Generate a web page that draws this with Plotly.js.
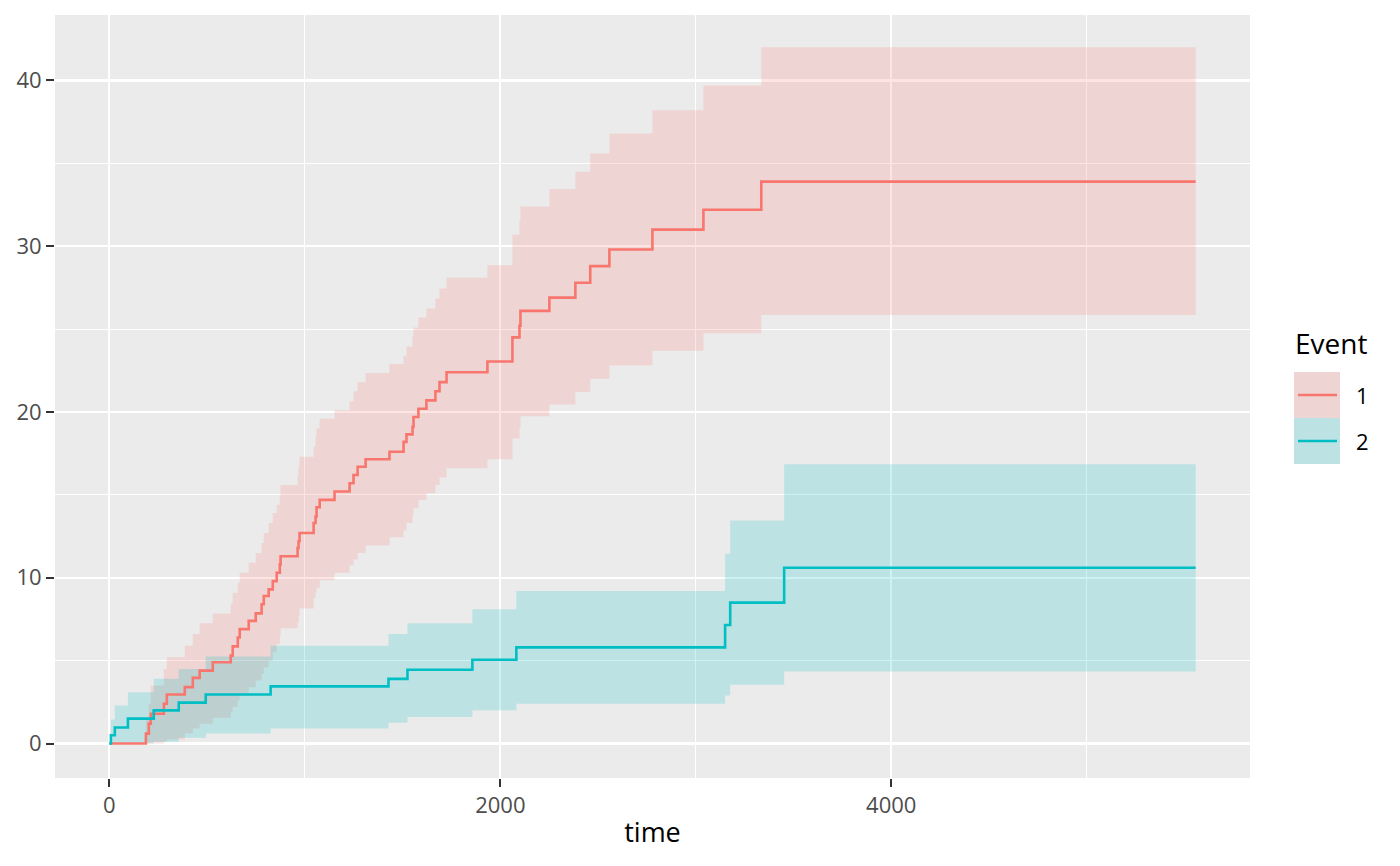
<!DOCTYPE html>
<html>
<head>
<meta charset="utf-8">
<script src="https://cdn.plot.ly/plotly-3.0.1.min.js"></script>
<style>html,body{margin:0;padding:0;background:#fff;}#chart{width:1400px;height:866px;}</style>
</head>
<body>
<div id="chart"></div>
<script>
// ---- Data ----
const event1Time  = [0, 187, 202, 212, 279, 294, 386, 427, 462, 529, 621, 631, 657, 667, 713, 749, 779, 790, 815, 836, 856, 872, 876, 963, 968, 973, 1045, 1055, 1060, 1076, 1152, 1229, 1249, 1270, 1311, 1433, 1505, 1520, 1551, 1556, 1581, 1622, 1668, 1689, 1725, 1934, 2062, 2098, 2103, 2251, 2384, 2460, 2558, 2778, 3039, 3335, 5557];
const event1Est   = [0, 0.6, 1.2, 1.8, 2.4, 2.96, 3.4, 3.96, 4.4, 4.9, 5.3, 5.86, 6.4, 6.9, 7.4, 7.85, 8.4, 8.9, 9.3, 9.8, 10.3, 10.8, 11.3, 11.8, 12.2, 12.7, 13.3, 13.7, 14.25, 14.7, 15.2, 15.7, 16.2, 16.7, 17.15, 17.6, 18.2, 18.65, 19.1, 19.7, 20.2, 20.7, 21.25, 21.8, 22.4, 23.05, 24.5, 25.2, 26.1, 26.9, 27.8, 28.8, 29.8, 31.0, 32.2, 33.9, 33.9];
const event1Lower = [0, 0, 0, 0, 0.1, 0.25, 0.6, 0.9, 1.2, 1.55, 1.9, 2.2, 2.6, 2.9, 3.4, 3.8, 4.2, 4.6, 5.0, 5.5, 6.0, 6.5, 6.95, 7.3, 7.7, 8.15, 8.8, 9.1, 9.4, 9.85, 10.3, 10.75, 11.1, 11.5, 11.95, 12.45, 12.85, 13.3, 13.8, 14.2, 14.7, 15.1, 15.6, 16.05, 16.6, 17.15, 18.4, 19.1, 19.75, 20.45, 21.2, 22.0, 22.8, 23.7, 24.75, 25.85, 25.85];
const event1Upper = [0, 1.5, 2.4, 3.5, 4.5, 5.2, 5.9, 6.6, 7.25, 7.85, 8.45, 9.1, 9.7, 10.3, 10.9, 11.5, 12.1, 12.7, 13.3, 13.9, 14.4, 15.0, 15.6, 16.2, 16.7, 17.3, 17.9, 18.5, 19.0, 19.6, 20.1, 20.65, 21.25, 21.8, 22.35, 22.9, 23.4, 23.95, 24.6, 25.1, 25.7, 26.25, 26.85, 27.45, 28.1, 28.85, 30.7, 31.5, 32.4, 33.45, 34.5, 35.6, 36.8, 38.2, 39.7, 42.0, 42.0];

const event2Time  = [0, 8, 28, 95, 227, 355, 493, 825, 1428, 1525, 1857, 2082, 3150, 3176, 3452, 5557];
const event2Est   = [0, 0.5, 0.97, 1.5, 2.0, 2.47, 2.96, 3.45, 3.9, 4.45, 5.05, 5.8, 7.15, 8.5, 10.6, 10.6];
const event2Lower = [0, 0, 0, 0, 0.1, 0.35, 0.6, 0.9, 1.25, 1.6, 2.0, 2.4, 2.9, 3.55, 4.35, 4.35];
const event2Upper = [0, 1.45, 2.3, 3.1, 3.9, 4.5, 5.25, 5.9, 6.6, 7.25, 8.1, 9.2, 11.45, 13.45, 16.85, 16.85];

const eventNames  = ['1', '2'];
const eventColors = ['#F8766D', '#00BFC4'];
const bandColors  = ['rgba(248,118,109,0.2)', 'rgba(0,191,196,0.2)'];
const xTickVals = [0, 2000, 4000];
const yTickVals = [0, 10, 20, 30, 40];

// ---- Traces ----
const series = [
  {t: event1Time, est: event1Est, lo: event1Lower, hi: event1Upper},
  {t: event2Time, est: event2Est, lo: event2Lower, hi: event2Upper}
];
const traces = [];
series.forEach((s, i) => {
  traces.push({x: s.t, y: s.lo, type: 'scatter', mode: 'lines', line: {shape: 'hv', width: 0, color: 'rgba(0,0,0,0)'}, hoverinfo: 'skip', showlegend: false});
  traces.push({x: s.t, y: s.hi, type: 'scatter', mode: 'lines', line: {shape: 'hv', width: 0, color: 'rgba(0,0,0,0)'}, fill: 'tonexty', fillcolor: bandColors[i], hoverinfo: 'skip', showlegend: false});
});
series.forEach((s, i) => {
  traces.push({x: s.t, y: s.est, type: 'scatter', mode: 'lines', line: {shape: 'hv', width: 2.6, color: eventColors[i]}, name: eventNames[i], showlegend: false});
});

// ---- Layout ----
const W = 1400, H = 866;
const M = {l: 55, r: 150, t: 15, b: 88};
const pw = W - M.l - M.r, ph = H - M.t - M.b;
const px = x => (x - M.l) / pw;
const py = y => (H - M.b - y) / ph;

const shapes = [];
const annotations = [];
annotations.push({text: 'Event', x: px(1293), y: py(343), xref: 'paper', yref: 'paper', xanchor: 'left', yanchor: 'middle', showarrow: false, font: {size: 28, color: '#000', family: 'Open Sans'}});
eventNames.forEach((nm, i) => {
  const top = 372 + i * 46;
  shapes.push({type: 'rect', xref: 'paper', yref: 'paper', x0: px(1294), x1: px(1340), y0: py(top), y1: py(top + 46), fillcolor: '#EBEBEB', line: {width: 0}, layer: 'above'});
  shapes.push({type: 'rect', xref: 'paper', yref: 'paper', x0: px(1294), x1: px(1340), y0: py(top), y1: py(top + 46), fillcolor: bandColors[i], line: {width: 0}, layer: 'above'});
  shapes.push({type: 'line', xref: 'paper', yref: 'paper', x0: px(1298), x1: px(1337), y0: py(top + 23), y1: py(top + 23), line: {color: eventColors[i], width: 2.6}, layer: 'above'});
  annotations.push({text: nm, x: px(1354), y: py(top + 23), xref: 'paper', yref: 'paper', xanchor: 'left', yanchor: 'middle', showarrow: false, font: {size: 22, color: '#000', family: 'Open Sans'}});
});

const layout = {
  width: W, height: H,
  margin: M,
  paper_bgcolor: '#FFFFFF',
  plot_bgcolor: '#EBEBEB',
  font: {family: 'Open Sans', color: '#4D4D4D'},
  showlegend: false,
  xaxis: {
    range: [-278, 5835],
    tickvals: xTickVals,
    ticktext: xTickVals.map(String),
    ticks: 'outside', ticklen: 8, tickwidth: 2, tickcolor: '#333333',
    tickfont: {size: 22, color: '#4D4D4D'},
    showgrid: true, gridcolor: '#FFFFFF', gridwidth: 2.2,
    minor: {tickvals: [1000, 3000, 5000], showgrid: true, gridcolor: '#FFFFFF', gridwidth: 1.1, ticks: ''},
    zeroline: false, showline: false,
    title: {text: 'time', font: {size: 27, color: '#000000'}, standoff: 4}
  },
  yaxis: {
    range: [-2.08, 43.95],
    tickvals: yTickVals,
    ticktext: yTickVals.map(String),
    ticks: 'outside', ticklen: 8, tickwidth: 2, tickcolor: '#333333',
    tickfont: {size: 22, color: '#4D4D4D'},
    showgrid: true, gridcolor: '#FFFFFF', gridwidth: 2.2,
    minor: {tickvals: [5, 15, 25, 35], showgrid: true, gridcolor: '#FFFFFF', gridwidth: 1.1, ticks: ''},
    zeroline: false, showline: false
  },
  shapes: shapes,
  annotations: annotations
};

Plotly.newPlot('chart', traces, layout, {displayModeBar: false, staticPlot: true});
</script>
</body>
</html>
